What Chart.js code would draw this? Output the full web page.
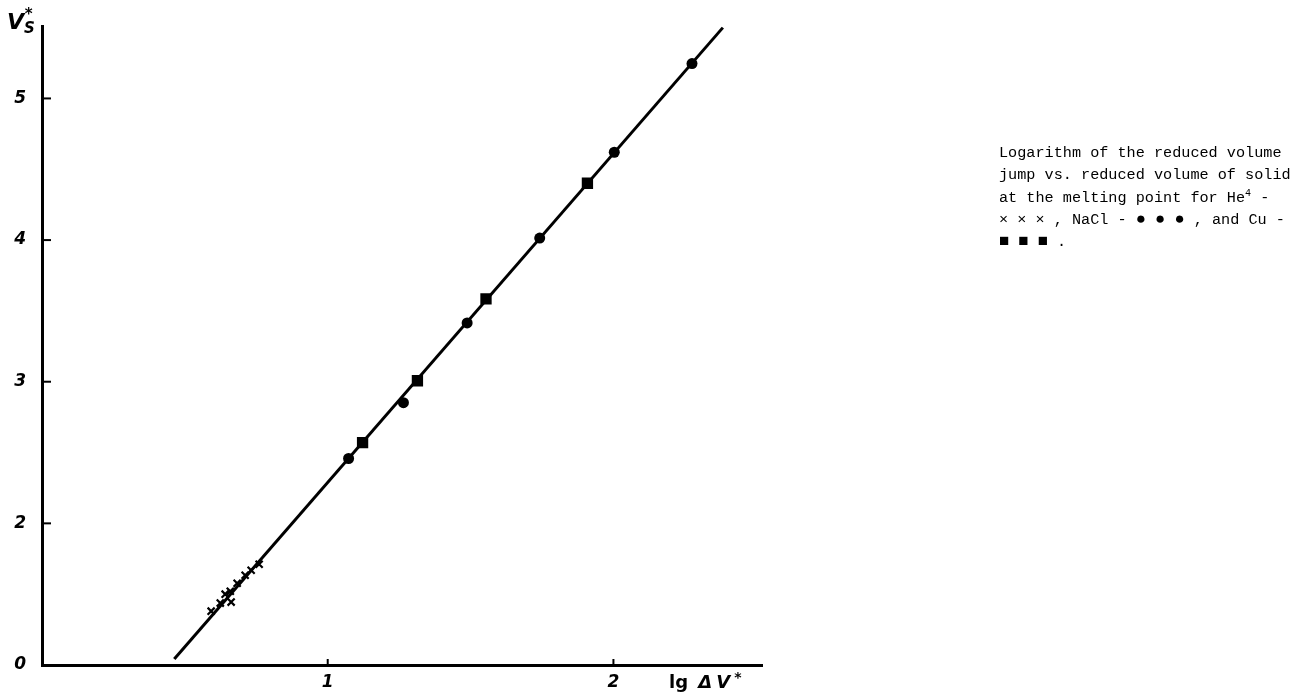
<!DOCTYPE html>
<html>
<head>
<meta charset="utf-8">
<script src="https://cdn.jsdelivr.net/npm/chart.js@4.4.0/dist/chart.umd.min.js"></script>
<style>
  html, body { margin: 0; padding: 0; background: #fff; }
  #wrap { position: relative; width: 1300px; height: 697px; }
  #chart { position: absolute; left: 0; top: 0; }
  .ytitle { position: absolute; left: 7px; top: 9px; font: italic bold 22px "DejaVu Sans", sans-serif; color: #000; }
  .ytitle sub { font-size: 15px; position: relative; top: 4px; vertical-align: baseline; }
  .ytitle sup { font-size: 15px; position: relative; left: -10px; top: -10px; vertical-align: baseline; }
  .xtitle { position: absolute; left: 669px; top: 672px; font: bold 18px/20px "DejaVu Sans", sans-serif; color: #000; word-spacing: 4px; white-space: nowrap; }
  .xtitle i { font-style: italic; letter-spacing: 4px; }
  .xtitle sup { font-size: 14px; vertical-align: 6px; line-height: 0; }
  .caption { position: absolute; left: 999px; top: 142px; width: 301px;
    font: 15.2px "Liberation Mono", "Courier New", monospace; line-height: 22.3px; color: #000; white-space: nowrap; }
  .caption sup { font-size: 10px; vertical-align: 6px; line-height: 0; }
  .caption .m { font-size: 17px; line-height: 0; }
</style>
</head>
<body>
<div id="wrap">
  <canvas id="chart" width="1300" height="697"></canvas>
  <div class="ytitle">V<sub>S</sub><sup>*</sup></div>
  <div class="xtitle">lg <i>ΔV</i><sup>*</sup></div>
  <div class="caption">
    Logarithm of the reduced volume<br>
    jump vs. reduced volume of solid<br>
    at the melting point for He<sup>4</sup> -<br>
    × × × , NaCl - <span class="m">●</span> <span class="m">●</span> <span class="m">●</span> , and Cu -<br>
    <span class="m">■</span> <span class="m">■</span> <span class="m">■</span> .
  </div>
</div>
<script>
// --- data: x = lg ΔV*, y = V_S* ---
const heX   = [0.592, 0.624, 0.641, 0.662, 0.659, 0.683, 0.711, 0.732, 0.760];
const heY   = [1.380, 1.437, 1.500, 1.444, 1.521, 1.577, 1.634, 1.669, 1.711];
const naclX = [1.073, 1.265, 1.488, 1.742, 2.003, 2.275];
const naclY = [2.458, 2.852, 3.415, 4.014, 4.620, 5.246];
const cuX   = [1.122, 1.314, 1.554, 1.909];
const cuY   = [2.570, 3.007, 3.585, 4.401];
const fitX  = [0.463, 2.383];
const fitY  = [1.042, 5.500];

const xTicks = [1, 2];
const xTickLabels = ['1', '2'];
const yTicks = [1, 2, 3, 4, 5];
const yTickLabels = ['0', '2', '3', '4', '5'];

const pts = (xs, ys) => xs.map((x, i) => ({ x, y: ys[i] }));

// small tick marks drawn inward from the axes
const innerTicks = {
  id: 'innerTicks',
  afterDraw(chart) {
    const { ctx, chartArea, scales } = chart;
    ctx.save();
    ctx.strokeStyle = '#000';
    ctx.lineWidth = 2;
    yTicks.slice(1).forEach(v => {
      const y = scales.y.getPixelForValue(v);
      ctx.beginPath(); ctx.moveTo(chartArea.left, y); ctx.lineTo(chartArea.left + 9, y); ctx.stroke();
    });
    xTicks.forEach(v => {
      const x = scales.x.getPixelForValue(v);
      ctx.beginPath(); ctx.moveTo(x, chartArea.bottom); ctx.lineTo(x, chartArea.bottom - 6); ctx.stroke();
    });
    ctx.restore();
  }
};

const tickFont = { family: 'DejaVu Sans', size: 17, style: 'italic', weight: 'bold' };

new Chart(document.getElementById('chart'), {
  type: 'scatter',
  data: {
    datasets: [
      { type: 'line', label: 'fit', data: pts(fitX, fitY), borderColor: '#000', borderWidth: 3,
        pointRadius: 0, fill: false, order: 4 },
      { label: 'He4', data: pts(heX, heY), pointStyle: 'crossRot', pointRadius: 5,
        borderColor: '#000', borderWidth: 2.2, order: 1 },
      { label: 'NaCl', data: pts(naclX, naclY), pointStyle: 'circle', pointRadius: 5.5,
        backgroundColor: '#000', borderColor: '#000', borderWidth: 0, order: 2 },
      { label: 'Cu', data: pts(cuX, cuY), pointStyle: 'rect', pointRadius: 8,
        backgroundColor: '#000', borderColor: '#000', borderWidth: 0, order: 3 }
    ]
  },
  options: {
    responsive: false,
    animation: false,
    layout: { padding: { top: 23, right: 538, left: 0, bottom: 0 } },
    plugins: { legend: { display: false }, tooltip: { enabled: false } },
    scales: {
      x: {
        type: 'linear', min: 0, max: 2.52,
        afterBuildTicks: s => { s.ticks = xTicks.map(v => ({ value: v })); },
        afterFit: s => { s.height = 32; },
        grid: { display: true, drawOnChartArea: false, drawTicks: false },
        border: { color: '#000', width: 3 },
        ticks: { color: '#000', font: tickFont, padding: 7, maxRotation: 0,
          callback: v => xTickLabels[xTicks.indexOf(v)] }
      },
      y: {
        type: 'linear', min: 1, max: 5.51,
        afterBuildTicks: s => { s.ticks = yTicks.map(v => ({ value: v })); },
        afterFit: s => { s.width = 42; },
        grid: { display: true, drawOnChartArea: false, drawTicks: false },
        border: { color: '#000', width: 3 },
        ticks: { color: '#000', font: tickFont, padding: 16,
          callback: v => yTickLabels[yTicks.indexOf(v)] }
      }
    }
  },
  plugins: [innerTicks]
});
</script>
</body>
</html>
